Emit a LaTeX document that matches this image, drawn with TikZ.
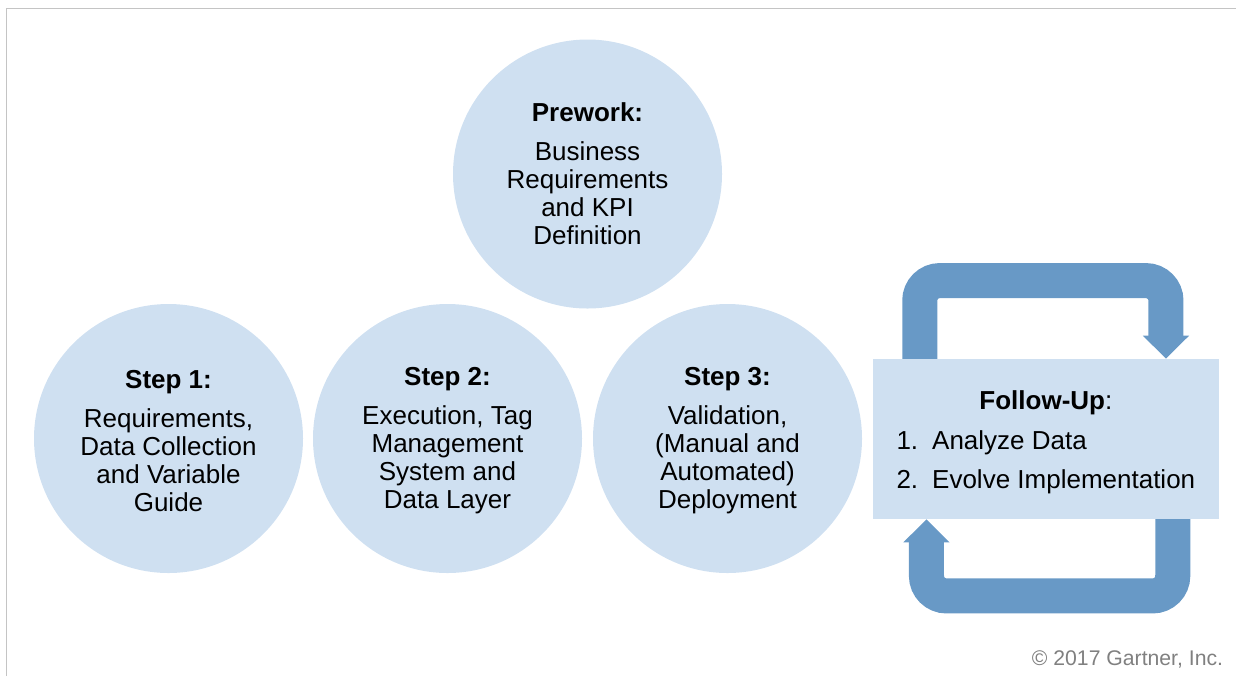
\documentclass[tikz,border=0pt]{standalone}
\usepackage{fontspec}
\setmainfont{Liberation Sans}
\usetikzlibrary{arrows.meta,calc,backgrounds}
\definecolor{bubblefill}{RGB}{207,224,241}
\definecolor{cyclearrow}{RGB}{104,153,198}
\definecolor{framegray}{RGB}{196,196,196}
\definecolor{notegray}{RGB}{128,128,128}

\begin{document}
\begin{tikzpicture}[x=0.5pt,y=-0.5pt,
  bubble/.style={circle, fill=bubblefill, minimum size=134.5pt, inner sep=0pt,
    align=center, font=\fontsize{13}{14}\selectfont},
  panel/.style={rectangle, fill=bubblefill, minimum width=173pt, minimum height=80pt,
    inner sep=0pt, align=center, font=\fontsize{13}{14.5}\selectfont},
  looparrow/.style={draw=cyclearrow, line width=17.5pt, rounded corners=10pt,
    -{Triangle[width=23pt,length=11.5pt,line width=1pt]}},
  note/.style={text=notegray, font=\fontsize{10.6}{12}\selectfont, inner sep=0pt}
]
\useasboundingbox (0,0) rectangle (1236,676);

% page frame (top and left edges only)
\draw[framegray, line width=0.75pt] (6.5,676) -- (6.5,8.5) -- (1236,8.5);

% the four phases
\node[bubble] (pre) at (587.5,174)
  {\textbf{Prework:}\\[5.5pt] Business\\ Requirements\\ and KPI\\ Definition};
\node[bubble] (s1) at (168.5,438.5)
  {\rule{0pt}{11.5pt}\textbf{Step 1:}\\[5.5pt] Requirements,\\ Data Collection\\ and Variable\\ Guide};
\node[bubble] (s2) at (447.5,438.5)
  {\rule{0pt}{11.5pt}\textbf{Step 2:}\\[5.5pt] Execution, Tag\\ Management\\ System and\\ Data Layer};
\node[bubble] (s3) at (727.5,438.5)
  {\rule{0pt}{11.5pt}\textbf{Step 3:}\\[5.5pt] Validation,\\ (Manual and\\ Automated)\\ Deployment};

% follow-up panel
\node[panel] (fu) at (1045.85,439)
  {\rule{0pt}{14.5pt}\textbf{Follow-Up}:\\[5.5pt]
   \begin{tabular}[t]{@{}l@{\hspace{7pt}}l@{}}
   1. & Analyze Data\\[5pt]
   2. & Evolve Implementation
   \end{tabular}};

% circular arrows around the panel
\coordinate (t1) at ($(fu.north west)+(47.3,2)$);
\coordinate (t2) at ($(fu.north east)+(-53.3,0)$);
\coordinate (b1) at ($(fu.south east)+(-46.5,-2)$);
\coordinate (b2) at ($(fu.south west)+(54,0)$);
\begin{scope}[on background layer]
  \draw[looparrow] (t1) -- ++(0,-80) -| (t2);
  \draw[looparrow] (b1) -- ++(0,78.5) -| (b2);
\end{scope}

% copyright line
\node[note, anchor=base east] (copy) at (1223.5,665.3) {© 2017 Gartner, Inc.};
\end{tikzpicture}
\end{document}
